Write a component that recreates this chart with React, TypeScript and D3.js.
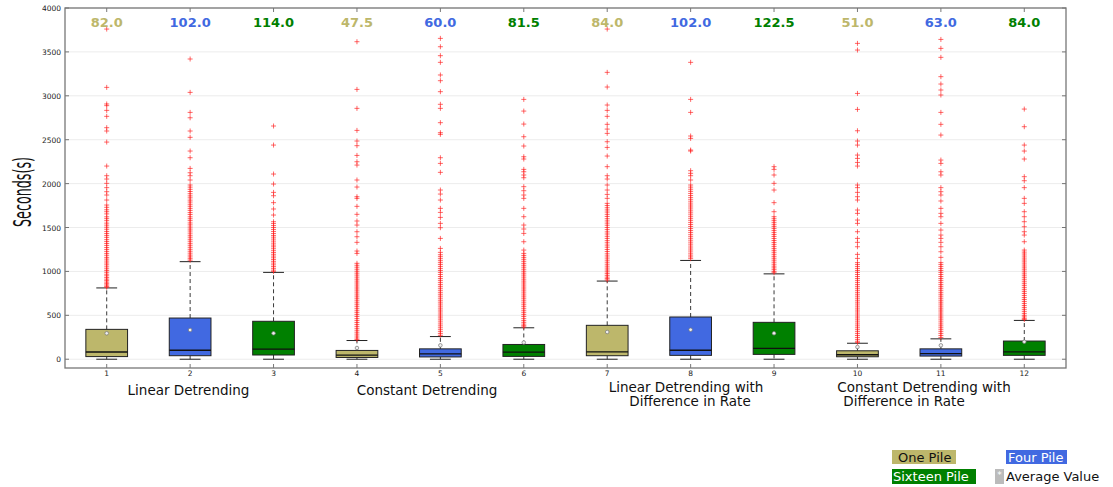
import React from "react";
import * as d3 from "d3";

const positions = [1, 2, 3, 4, 5, 6, 7, 8, 9, 10, 11, 12];
const seriesNames = ["One Pile", "Four Pile", "Sixteen Pile"];
const seriesColors = ["#BDB76B", "#4169E1", "#008000"];
const medianLabels = ["82.0", "102.0", "114.0", "47.5", "60.0", "81.5", "84.0", "102.0", "122.5", "51.0", "63.0", "84.0"];
const medians = [82, 102, 114, 47.5, 60, 81.5, 84, 102, 122.5, 51, 63, 84];
const q1s = [30, 40, 48, 20, 26, 32, 40, 44, 55, 28, 36, 44];
const q3s = [340, 469, 432, 100, 118, 168, 386, 481, 420, 96, 118, 207];
const whiskerLows = [0, 0, 0, 0, 0, 0, 0, 0, 0, 0, 0, 0];
const whiskerHighs = [812, 1111, 989, 213, 258, 358, 890, 1125, 972, 182, 232, 442];
const means = [295, 333, 295, 128, 158, 190, 310, 336, 295, 139, 158, 199];
const yTicks = [0, 500, 1000, 1500, 2000, 2500, 3000, 3500, 4000];

const out1 = [3760, 3096, 2907, 2888, 2834, 2766, 2637, 2599, 2473, 2200, 2090, 2052, 2003, 1954, 1908, 1870, 1813, 1756, 1730, 1702, 1680, 1655, 1622, 1601, 1578, 1550, 1527, 1503, 1480, 1455, 1432, 1410, 1388, 1362, 1340, 1318, 1296, 1272, 1250, 1228, 1205, 1184, 1160, 1140, 1118, 1096, 1075, 1052, 1030, 1010, 990, 968, 950, 930, 912, 895, 878, 860, 845, 830, 820];
const out2 = [3419, 3039, 2811, 2750, 2599, 2527, 2371, 2295, 2173, 2124, 2090, 2041, 1984, 1960, 1935, 1910, 1885, 1860, 1838, 1812, 1790, 1765, 1742, 1718, 1695, 1670, 1648, 1622, 1600, 1578, 1552, 1530, 1505, 1482, 1460, 1436, 1412, 1390, 1366, 1344, 1320, 1298, 1275, 1252, 1230, 1208, 1186, 1165, 1145, 1128];
const out3 = [2656, 2439, 2109, 1995, 1900, 1862, 1783, 1711, 1642, 1566, 1545, 1522, 1500, 1478, 1455, 1432, 1410, 1390, 1368, 1345, 1322, 1300, 1280, 1258, 1236, 1215, 1195, 1175, 1155, 1135, 1115, 1095, 1075, 1055, 1035, 1015, 1000];
const out4 = [3616, 3073, 2857, 2606, 2485, 2432, 2321, 2249, 2211, 2041, 1961, 1851, 1832, 1741, 1650, 1574, 1528, 1452, 1395, 1331, 1232, 1205, 1092, 1070, 1048, 1025, 1002, 980, 958, 935, 912, 890, 868, 845, 822, 800, 778, 755, 732, 710, 688, 665, 642, 620, 598, 575, 552, 530, 508, 486, 462, 440, 418, 396, 374, 352, 330, 308, 286, 264, 242, 225];
const out5 = [3654, 3559, 3457, 3381, 3237, 3172, 3047, 2903, 2857, 2694, 2580, 2561, 2295, 2230, 2128, 1927, 1881, 1813, 1718, 1672, 1615, 1547, 1498, 1376, 1262, 1217, 1190, 1168, 1145, 1122, 1100, 1078, 1055, 1032, 1010, 988, 965, 942, 920, 898, 875, 852, 830, 808, 785, 762, 740, 718, 695, 672, 650, 628, 605, 582, 560, 538, 515, 492, 470, 448, 425, 402, 380, 358, 336, 314, 292, 272];
const out6 = [2959, 2826, 2678, 2534, 2428, 2306, 2280, 2162, 2135, 2098, 2067, 1965, 1919, 1870, 1832, 1718, 1623, 1528, 1483, 1433, 1338, 1243, 1205, 1182, 1160, 1138, 1115, 1092, 1070, 1048, 1025, 1002, 980, 958, 935, 912, 890, 868, 845, 822, 800, 778, 755, 732, 710, 688, 665, 642, 620, 598, 575, 552, 530, 508, 486, 462, 440, 420, 400, 382, 368];
const out7 = [3760, 3267, 3100, 2895, 2834, 2766, 2675, 2621, 2572, 2477, 2412, 2314, 2193, 2090, 2052, 1984, 1927, 1877, 1832, 1775, 1750, 1725, 1700, 1676, 1650, 1626, 1600, 1575, 1550, 1526, 1500, 1476, 1450, 1426, 1400, 1376, 1350, 1326, 1300, 1276, 1250, 1226, 1200, 1176, 1152, 1128, 1105, 1082, 1060, 1038, 1016, 995, 975, 955, 935, 918, 902];
const out8 = [3381, 2959, 2811, 2542, 2515, 2382, 2371, 2147, 2117, 2090, 2041, 1984, 1960, 1936, 1912, 1888, 1864, 1840, 1816, 1792, 1768, 1745, 1722, 1698, 1675, 1652, 1628, 1605, 1582, 1558, 1535, 1512, 1488, 1465, 1442, 1418, 1395, 1372, 1348, 1325, 1302, 1278, 1255, 1232, 1208, 1186, 1165, 1145];
const out9 = [2193, 2162, 2098, 2003, 1927, 1783, 1680, 1623, 1600, 1578, 1555, 1532, 1510, 1488, 1465, 1442, 1420, 1398, 1375, 1352, 1330, 1308, 1285, 1262, 1240, 1218, 1195, 1172, 1150, 1128, 1105, 1082, 1060, 1040, 1020, 1000, 985];
const out10 = [3597, 3521, 3027, 2845, 2602, 2485, 2439, 2325, 2287, 2241, 2200, 1984, 1954, 1900, 1851, 1813, 1699, 1661, 1585, 1547, 1452, 1376, 1331, 1281, 1194, 1148, 1100, 1078, 1055, 1032, 1010, 988, 965, 942, 920, 898, 875, 852, 830, 808, 785, 762, 740, 718, 695, 672, 650, 628, 605, 582, 560, 538, 515, 492, 470, 448, 425, 402, 380, 358, 336, 314, 292, 270, 248, 226, 205, 192];
const out11 = [3642, 3540, 3438, 3218, 3134, 3066, 3009, 2811, 2675, 2553, 2268, 2230, 2135, 2098, 1954, 1908, 1870, 1802, 1718, 1661, 1623, 1547, 1471, 1414, 1376, 1331, 1281, 1224, 1160, 1100, 1078, 1055, 1032, 1010, 988, 965, 942, 920, 898, 875, 852, 830, 808, 785, 762, 740, 718, 695, 672, 650, 628, 605, 582, 560, 538, 515, 492, 470, 448, 425, 402, 380, 358, 336, 314, 292, 270, 248];
const out12 = [2849, 2648, 2439, 2371, 2280, 2079, 2033, 1954, 1832, 1775, 1680, 1623, 1566, 1509, 1452, 1414, 1338, 1243, 1220, 1198, 1175, 1152, 1130, 1108, 1085, 1062, 1040, 1018, 995, 972, 950, 928, 905, 882, 860, 838, 815, 792, 770, 748, 725, 702, 680, 658, 635, 612, 590, 568, 545, 522, 500, 482, 465, 452];
const outliers = [out1, out2, out3, out4, out5, out6, out7, out8, out9, out10, out11, out12];

const W = 1113;
const H = 487;
const left = 65, right = 1066, top = 8, bottom = 368;

export default function App() {
  const x = d3.scaleLinear().domain([0.5, 12.5]).range([left, right]);
  const y = d3.scaleLinear().domain([-100, 4000]).range([bottom, top]);
  const boxW = x(1.25) - x(1);
  const capW = x(1.125) - x(1);
  const font = "'DejaVu Sans', sans-serif";

  return (
    <svg width={W} height={H} style={{ position: "absolute", left: 0, top: 0, background: "#fff" }} fontFamily={font}>
      <rect x={0} y={0} width={W} height={H} fill="#fff" />
      {yTicks.map((t) => (
        <line key={"g" + t} x1={left} x2={right} y1={y(t)} y2={y(t)} stroke="#ececec" strokeWidth={1} />
      ))}
      {yTicks.map((t) => (
        <g key={"yt" + t}>
          <line x1={left} x2={left + 4} y1={y(t)} y2={y(t)} stroke="#555" strokeWidth={0.8} />
          <line x1={right} x2={right - 4} y1={y(t)} y2={y(t)} stroke="#555" strokeWidth={0.8} />
          <text x={61} y={y(t) + 3} textAnchor="end" fontSize={7.5} fill="#222">{t}</text>
        </g>
      ))}
      {positions.map((p) => (
        <g key={"xt" + p}>
          <line x1={x(p)} x2={x(p)} y1={bottom} y2={bottom - 4} stroke="#555" strokeWidth={0.8} />
          <line x1={x(p)} x2={x(p)} y1={top} y2={top + 4} stroke="#555" strokeWidth={0.8} />
          <text x={x(p)} y={376} textAnchor="middle" fontSize={7.5} fill="#222">{p}</text>
        </g>
      ))}
      {positions.map((p, i) => {
        const cx = x(p);
        const color = seriesColors[i % 3];
        return (
          <g key={"b" + p}>
            <line x1={cx} x2={cx} y1={y(q3s[i])} y2={y(whiskerHighs[i])} stroke="#222" strokeWidth={0.9} strokeDasharray="4,3" />
            <line x1={cx} x2={cx} y1={y(q1s[i])} y2={y(whiskerLows[i])} stroke="#222" strokeWidth={0.9} strokeDasharray="4,3" />
            <line x1={cx - capW} x2={cx + capW} y1={y(whiskerHighs[i])} y2={y(whiskerHighs[i])} stroke="#222" strokeWidth={1} />
            <line x1={cx - capW} x2={cx + capW} y1={y(whiskerLows[i])} y2={y(whiskerLows[i])} stroke="#222" strokeWidth={1} />
            <rect x={cx - boxW} y={y(q3s[i])} width={boxW * 2} height={y(q1s[i]) - y(q3s[i])} fill={color} stroke="#222" strokeWidth={1} />
            <line x1={cx - boxW} x2={cx + boxW} y1={y(medians[i])} y2={y(medians[i])} stroke="#111" strokeWidth={1.3} />
            <circle cx={cx} cy={y(means[i])} r={1.8} fill="#eee" stroke="#777" strokeWidth={0.7} />
            {outliers[i].map((v, k) => (
              <path key={k} d={`M${cx - 2.5},${y(v)}h5M${cx},${y(v) - 2.5}v5`} stroke="#ff2020" strokeOpacity={0.75} strokeWidth={0.9} fill="none" />
            ))}
            <text x={cx} y={27} textAnchor="middle" fontSize={13} fontWeight="bold" fill={color}>{medianLabels[i]}</text>
          </g>
        );
      })}
      <rect x={left} y={top} width={right - left} height={bottom - top} fill="none" stroke="#777" strokeWidth={1.3} />
      <text transform={`translate(31,192) rotate(-90)`} textAnchor="middle" fontSize={25} fontFamily="'Liberation Sans Narrow', 'DejaVu Sans Condensed', sans-serif" fill="#111" textLength={70} lengthAdjust="spacingAndGlyphs">Seconds(s)</text>
      <g fontSize={13.5} fill="#111" textAnchor="middle">
        <text x={188.5} y={395}>Linear Detrending</text>
        <text x={427} y={395}>Constant Detrending</text>
        <text x={686} y={392}>Linear Detrending with</text>
        <text x={690} y={406}>Difference in Rate</text>
        <text x={924} y={392}>Constant Detrending with</text>
        <text x={904} y={406}>Difference in Rate</text>
      </g>
      <g fontSize={13}>
        <rect x={892} y={450} width={64} height={14} fill={seriesColors[0]} />
        <text x={898} y={462} fill="#111">{seriesNames[0]}</text>
        <rect x={1006} y={450} width={61} height={14} fill={seriesColors[1]} />
        <text x={1008} y={462} fill="#fff">{seriesNames[1]}</text>
        <rect x={892} y={469} width={84} height={15} fill={seriesColors[2]} />
        <text x={893} y={481} fill="#fff">{seriesNames[2]}</text>
        <rect x={995} y={469} width={9} height={15} fill="#bbb" />
        <text x={999.5} y={478} fill="#fff" fontSize={9} textAnchor="middle">*</text>
        <text x={1006} y={481} fill="#111">Average Value</text>
      </g>
    </svg>
  );
}
